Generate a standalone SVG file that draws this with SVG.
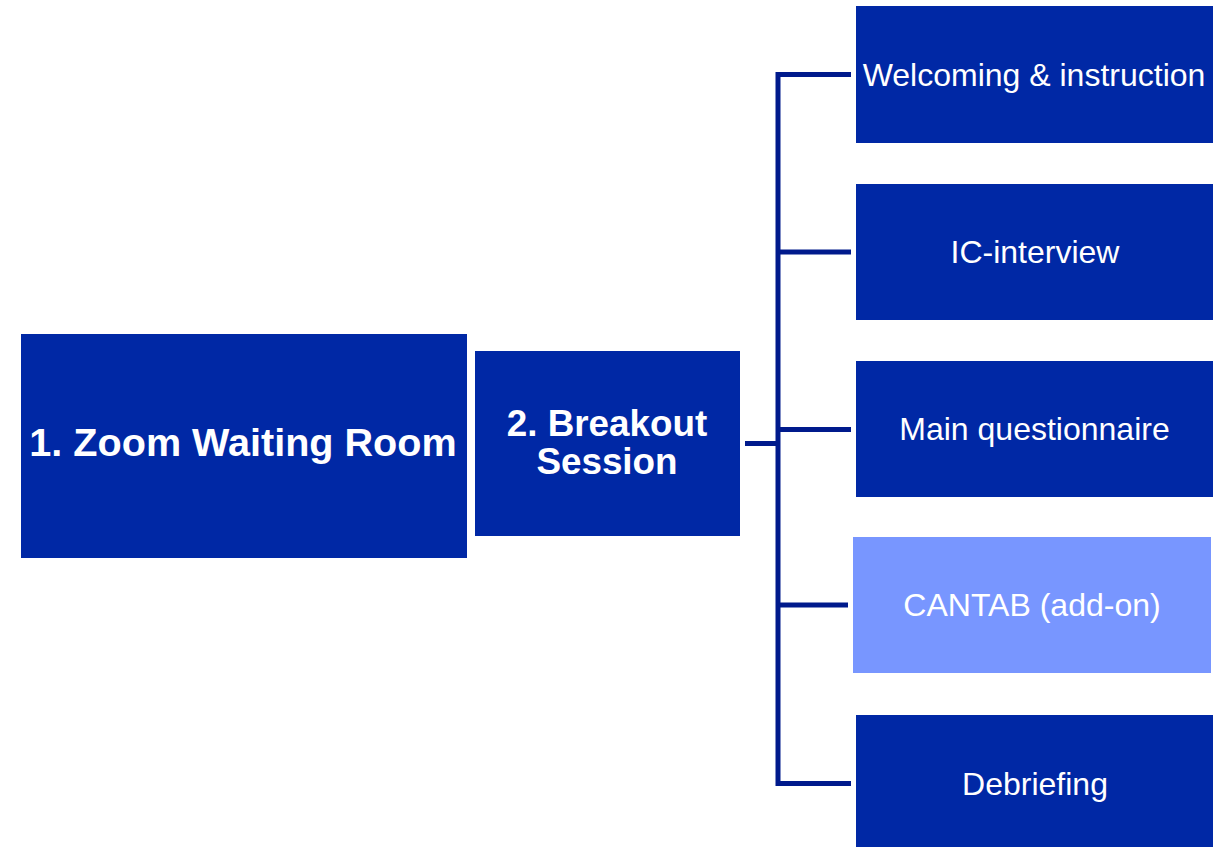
<svg xmlns="http://www.w3.org/2000/svg" width="1225" height="847" viewBox="0 0 1225 847">
<style>
.box{fill:#0028A5;}
.light{fill:#7896FF;}
.t{font-family:"Liberation Sans",Arial,sans-serif;fill:#FFFFFF;text-anchor:middle;}
.b{font-weight:bold;}
.r{font-size:32px;}
.conn{stroke:#001A8C;stroke-width:5;fill:none;stroke-linecap:butt;stroke-linejoin:miter;}
</style>
<rect width="1225" height="847" fill="#FFFFFF"/>
<g id="connectors">
<path class="conn" d="M851 74.5 H778 V783.5 H851"/>
<path class="conn" d="M778 252 H851"/>
<path class="conn" d="M778 429.5 H851"/>
<path class="conn" d="M778 605 H848"/>
<path class="conn" d="M745 443.5 H778"/>
</g>
<g id="node1">
<rect class="box" x="21" y="334" width="446" height="224"/>
<text class="t b" x="243" y="456" font-size="39.6">1. Zoom Waiting Room</text>
</g>
<g id="node2">
<rect class="box" x="475" y="351" width="265" height="185"/>
<text class="t b" x="607" y="435.5" font-size="36.8">2. Breakout</text>
<text class="t b" x="607" y="473.5" font-size="36.8">Session</text>
</g>
<g id="welcoming">
<rect class="box" x="856" y="6" width="357" height="137"/>
<text class="t r" x="1034" y="85.5">Welcoming &amp; instruction</text>
</g>
<g id="ic">
<rect class="box" x="856" y="184" width="357" height="136"/>
<text class="t r" x="1035" y="262.5">IC-interview</text>
</g>
<g id="main">
<rect class="box" x="856" y="361" width="357" height="136"/>
<text class="t r" x="1034.5" y="440">Main questionnaire</text>
</g>
<g id="cantab">
<rect class="light" x="853" y="537" width="358" height="136"/>
<text class="t r" x="1032" y="615.5">CANTAB (add-on)</text>
</g>
<g id="debriefing">
<rect class="box" x="856" y="715" width="357" height="140"/>
<text class="t r" x="1035" y="794.5">Debriefing</text>
</g>
</svg>
